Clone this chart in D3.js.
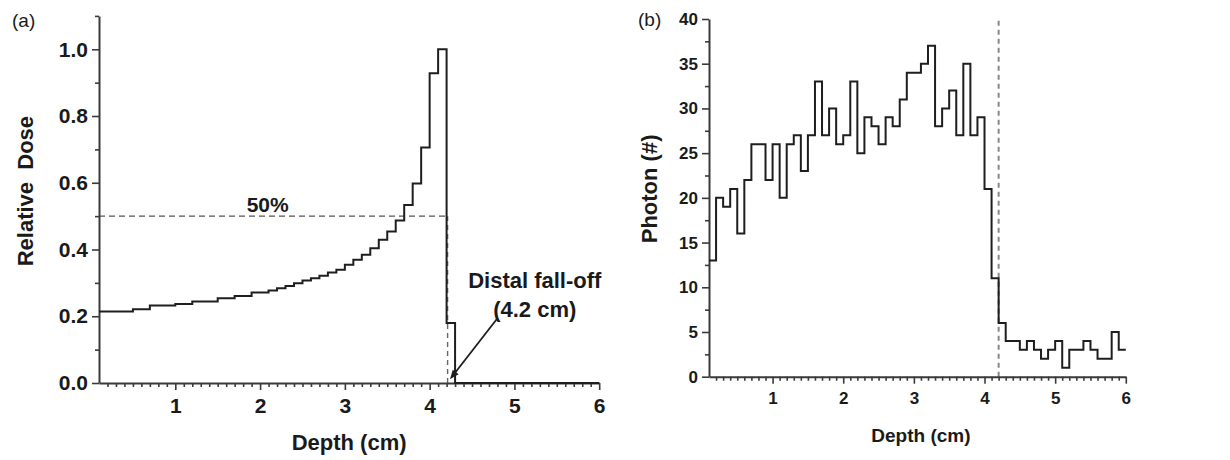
<!DOCTYPE html>
<html>
<head>
<meta charset="utf-8">
<script src="https://cdn.jsdelivr.net/npm/d3@7"></script>
<style>
  html, body { margin: 0; padding: 0; background: #fff; }
  svg { display: block; }
  text { font-family: "Liberation Sans", Arial, sans-serif; fill: #1a1a1a; }
</style>
</head>
<body>
<svg id="chart" width="1230" height="460"></svg>
<script>
// Depth bins: 0.1 cm wide, left edges from 0.1 cm to 5.9 cm
const binStart = 0.1;
const binWidth = 0.1;

// (a) Relative dose per depth bin
const doseValues = [
  0.214, 0.214, 0.214, 0.214, 0.221, 0.221, 0.232, 0.232, 0.232, 0.237,
  0.237, 0.244, 0.244, 0.244, 0.254, 0.254, 0.261, 0.261, 0.271, 0.271,
  0.277, 0.284, 0.291, 0.299, 0.307, 0.314, 0.321, 0.331, 0.339, 0.354,
  0.369, 0.384, 0.404, 0.429, 0.454, 0.487, 0.533, 0.598, 0.706, 0.928,
  1.000, 0.180, 0, 0, 0, 0, 0, 0, 0, 0,
  0, 0, 0, 0, 0, 0, 0, 0, 0
];

// (b) Prompt photon counts per depth bin
const photonCounts = [
  13, 20, 19, 21, 16, 22, 26, 26, 22, 26,
  20, 26, 27, 23, 27, 33, 27, 30, 26, 27,
  33, 25, 29, 28, 26, 29, 28, 31, 34, 34,
  35, 37, 28, 30, 32, 27, 35, 27, 29, 21,
  11, 6, 4, 4, 3, 4, 3, 2, 3, 4,
  1, 3, 3, 4, 3, 2, 2, 5, 3
];

// Axis ticks and reference markers
const depthTicks = [1, 2, 3, 4, 5, 6];
const doseTicks = [0, 0.2, 0.4, 0.6, 0.8, 1.0];
const photonTicks = [0, 5, 10, 15, 20, 25, 30, 35, 40];
const distalFallOff = 4.2;   // cm
const halfDose = 0.5;

const svg = d3.select("#chart");
const ink = "#1e1e1e";

function stepPoints(values) {
  const pts = values.map((v, i) => [binStart + i * binWidth, v]);
  pts.push([binStart + values.length * binWidth, values[values.length - 1]]);
  return pts;
}

function minorRange(lo, hi, step, majors) {
  return d3.range(Math.round(lo / step), Math.round(hi / step) + 1)
    .map(k => +(k * step).toFixed(4))
    .filter(v => !majors.some(m => Math.abs(m - v) < 1e-6));
}

function drawFrame(g, x, y, opts) {
  // minor ticks
  g.append("g")
    .attr("transform", `translate(0,${y.range()[0]})`)
    .call(d3.axisBottom(x).tickValues(minorRange(0.2, 6, 0.1, depthTicks)).tickSize(4).tickFormat(""))
    .call(a => a.select(".domain").remove());
  g.append("g")
    .attr("transform", `translate(${x.range()[0]},0)`)
    .call(d3.axisLeft(y).tickValues(opts.yMinor).tickSize(4).tickFormat(""))
    .call(a => a.select(".domain").remove());

  // major ticks with labels
  const xa = g.append("g")
    .attr("transform", `translate(0,${y.range()[0]})`)
    .call(d3.axisBottom(x).tickValues(depthTicks).tickSize(7).tickSizeOuter(0).tickPadding(8).tickFormat(d3.format("d")));
  const ya = g.append("g")
    .attr("transform", `translate(${x.range()[0]},0)`)
    .call(d3.axisLeft(y).tickValues(opts.yTicks).tickSize(7).tickSizeOuter(0).tickPadding(4).tickFormat(opts.yFormat));

  [xa, ya].forEach(a => {
    a.selectAll(".tick text")
      .style("font-size", opts.tickFont + "px")
      .style("font-weight", "bold")
      .attr("fill", ink);
  });
  g.selectAll(".domain, .tick line")
    .attr("stroke", "#3a3a3a")
    .attr("stroke-width", 1.6);
  g.selectAll(".domain").attr("stroke-width", 2);
}

// ---------- Panel (a): relative dose ----------
{
  const x = d3.scaleLinear().domain([0.1, 6]).range([99, 599.2]);
  const y = d3.scaleLinear().domain([0, 1.1]).range([383, 15.9]);
  const g = svg.append("g");

  // 50% dose and distal fall-off guides
  g.append("line")
    .attr("x1", x(0.1)).attr("x2", x(distalFallOff))
    .attr("y1", y(halfDose)).attr("y2", y(halfDose))
    .attr("stroke", "#555").attr("stroke-width", 1.4)
    .attr("stroke-dasharray", "6,4");
  g.append("line")
    .attr("x1", x(distalFallOff) + 1).attr("x2", x(distalFallOff) + 1)
    .attr("y1", y(0)).attr("y2", y(halfDose))
    .attr("stroke", "#666").attr("stroke-width", 1.4)
    .attr("stroke-dasharray", "5,4");

  drawFrame(g, x, y, {
    yTicks: doseTicks,
    yMinor: minorRange(0.1, 1.1, 0.1, doseTicks),
    yFormat: d3.format(".1f"),
    tickFont: 21
  });

  g.append("path")
    .datum(stepPoints(doseValues))
    .attr("fill", "none")
    .attr("stroke", ink)
    .attr("stroke-width", 2)
    .attr("d", d3.line().x(d => x(d[0])).y(d => y(d[1])).curve(d3.curveStepAfter));

  g.append("text")
    .attr("x", x(2.09)).attr("y", y(0.513))
    .attr("text-anchor", "middle")
    .style("font-size", "21px").style("font-weight", "bold")
    .text("50%");

  g.append("text")
    .attr("x", x(5.24)).attr("y", y(0.285))
    .attr("text-anchor", "middle")
    .style("font-size", "22px").style("font-weight", "bold")
    .text("Distal fall-off");
  g.append("text")
    .attr("x", x(5.24)).attr("y", y(0.199))
    .attr("text-anchor", "middle")
    .style("font-size", "22px").style("font-weight", "bold")
    .text("(4.2 cm)");

  // arrow pointing to the fall-off depth
  const ax0 = x(4.8), ay0 = y(0.194), ax1 = x(4.24), ay1 = y(0.011);
  const ang = Math.atan2(ay1 - ay0, ax1 - ax0);
  const head = 10, spread = 0.38;
  g.append("line")
    .attr("x1", ax0).attr("y1", ay0)
    .attr("x2", ax1 - Math.cos(ang) * head * 0.8).attr("y2", ay1 - Math.sin(ang) * head * 0.8)
    .attr("stroke", ink).attr("stroke-width", 1.8);
  g.append("path")
    .attr("d", d3.line()([
      [ax1, ay1],
      [ax1 - head * Math.cos(ang - spread), ay1 - head * Math.sin(ang - spread)],
      [ax1 - head * Math.cos(ang + spread), ay1 - head * Math.sin(ang + spread)]
    ]) + "Z")
    .attr("fill", ink);

  g.append("text")
    .attr("x", x(3.05)).attr("y", 450)
    .attr("text-anchor", "middle")
    .style("font-size", "22px").style("font-weight", "bold")
    .text("Depth (cm)");
  g.append("text")
    .attr("transform", `translate(33,${y(0.575)}) rotate(-90)`)
    .attr("text-anchor", "middle")
    .style("font-size", "22px").style("font-weight", "bold")
    .style("white-space", "pre")
    .attr("xml:space", "preserve")
    .text("Relative  Dose");

  g.append("text")
    .attr("x", 12).attr("y", 27)
    .style("font-size", "19px")
    .text("(a)");
}

// ---------- Panel (b): prompt photons ----------
{
  const x = d3.scaleLinear().domain([0.1, 6]).range([709, 1125.8]);
  const y = d3.scaleLinear().domain([0, 40]).range([376.7, 19]);
  const g = svg.append("g");

  g.append("line")
    .attr("x1", x(distalFallOff)).attr("x2", x(distalFallOff))
    .attr("y1", y(0)).attr("y2", y(40))
    .attr("stroke", "#888").attr("stroke-width", 2)
    .attr("stroke-dasharray", "5,4");

  drawFrame(g, x, y, {
    yTicks: photonTicks,
    yMinor: minorRange(2.5, 37.5, 2.5, photonTicks),
    yFormat: d3.format("d"),
    tickFont: 17
  });

  g.append("path")
    .datum(stepPoints(photonCounts))
    .attr("fill", "none")
    .attr("stroke", ink)
    .attr("stroke-width", 2)
    .attr("d", d3.line().x(d => x(d[0])).y(d => y(d[1])).curve(d3.curveStepAfter));

  g.append("text")
    .attr("x", x(3.1)).attr("y", 442)
    .attr("text-anchor", "middle")
    .style("font-size", "19px").style("font-weight", "bold")
    .text("Depth (cm)");
  g.append("text")
    .attr("transform", `translate(657,${y(21)}) rotate(-90)`)
    .attr("text-anchor", "middle")
    .style("font-size", "22px").style("font-weight", "bold")
    .text("Photon (#)");

  g.append("text")
    .attr("x", 638).attr("y", 26)
    .style("font-size", "19px")
    .text("(b)");
}
</script>
</body>
</html>
